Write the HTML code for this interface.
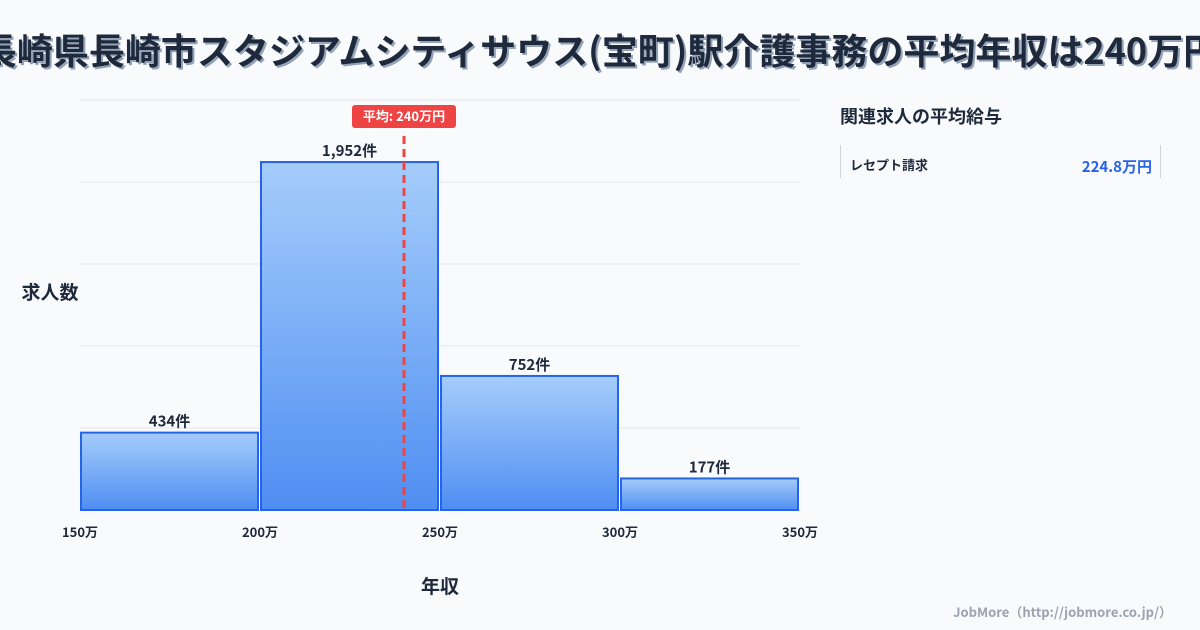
<!DOCTYPE html>
<html><head><meta charset="utf-8"><style>
body{margin:0;width:1200px;height:630px;background:#f8fafc;overflow:hidden;font-family:"Noto Sans CJK JP","Liberation Sans",sans-serif;position:relative}
.title{position:absolute;left:-300px;width:1800px;top:24px;text-align:center;font-size:36px;font-weight:bold;color:#1e293b;text-shadow:2px 2px 0 #94a3b8;white-space:nowrap;line-height:50px}
svg text{font-family:"Noto Sans CJK JP","Liberation Sans",sans-serif}
</style></head><body>
<div class="title">長崎県長崎市スタジアムシティサウス(宝町)駅介護事務の平均年収は240万円</div>
<svg width="1200" height="630" style="position:absolute;left:0;top:0">
<defs><linearGradient id="g" x1="0" y1="0" x2="0" y2="1"><stop offset="0" stop-color="#a5cdfb"/><stop offset="1" stop-color="#4f8ef2"/></linearGradient></defs>
<g id="grid"></g><g id="bars"></g><g id="labels"></g>
<text x="440" y="593" text-anchor="middle" font-size="19" font-weight="bold" fill="#1e293b">年収</text>
<text x="50" y="299" text-anchor="middle" font-size="19" font-weight="bold" fill="#1e293b">求人数</text>
<text x="840" y="123" font-size="18" font-weight="bold" fill="#1e293b">関連求人の平均給与</text>
<line x1="840.5" y1="145" x2="840.5" y2="178" stroke="#cbd5e1"/>
<line x1="1160.5" y1="145" x2="1160.5" y2="178" stroke="#cbd5e1"/>
<text x="850" y="170" font-size="13" font-weight="bold" fill="#1e293b">レセプト請求</text>
<text x="1152" y="172" text-anchor="end" font-size="15" font-weight="bold" fill="#2563eb">224.8万円</text>
<text x="1172" y="617" text-anchor="end" font-size="13" font-weight="bold" fill="#9ca3af">JobMore（http://jobmore.co.jp/）</text>
</svg>
<script>
const binStarts=[150,200,250,300];
const binEnds=[200,250,300,350];
const counts=[434,1952,752,177];
const countLabels=["434件","1,952件","752件","177件"];
const xTicks=[150,200,250,300,350];
const yMax=2300;
const gridCount=5;
const meanValue=240;
const meanLabel="平均: 240万円";
const X0=80,X1=800,Y0=510,Y1=100;
const xs=v=>X0+(v-150)/(350-150)*(X1-X0);
const ys=v=>Y0-v/yMax*(Y0-Y1);
const NS="http://www.w3.org/2000/svg";
function mk(t,a,p){const e=document.createElementNS(NS,t);for(const k in a)e.setAttribute(k,a[k]);p.appendChild(e);return e;}
const grid=document.getElementById('grid'),bars=document.getElementById('bars'),labels=document.getElementById('labels');
for(let i=0;i<=gridCount;i++){const y=Y1+i*(Y0-Y1)/gridCount;
const l=mk('line',{x1:X0,x2:X1,y1:y,y2:y,stroke:'#e2e8f0'},grid);

}
counts.forEach((c,i)=>{const x=xs(binStarts[i])+1,w=xs(binEnds[i])-xs(binStarts[i])-3,y=ys(c);
const r=mk('rect',{x:x,y:y,width:w,height:Y0-y,fill:'url(#g)',stroke:'#2563eb','stroke-width':2},bars);


const t=mk('text',{x:x+w/2,y:y-6,'text-anchor':'middle','font-size':15,'font-weight':'bold',fill:'#1e293b'},labels);t.textContent=countLabels[i];

});
xTicks.forEach(v=>{const t=mk('text',{x:xs(v),y:537,'text-anchor':'middle','font-size':13,'font-weight':'bold',fill:'#1e293b'},labels);t.textContent=v+'万';

});
const mx=xs(meanValue);
const ml=mk('line',{x1:mx,x2:mx,y1:136,y2:Y0,stroke:'#ef4444','stroke-width':3,'stroke-dasharray':'8,5'},labels);


const mb=mk('rect',{x:mx-52,y:105,width:104,height:23,rx:3,fill:'#ef4444'},labels);


const mt=mk('text',{x:mx,y:121,'text-anchor':'middle','font-size':13,'font-weight':'bold',fill:'#fff'},labels);mt.textContent=meanLabel;


</script>
</body></html>
